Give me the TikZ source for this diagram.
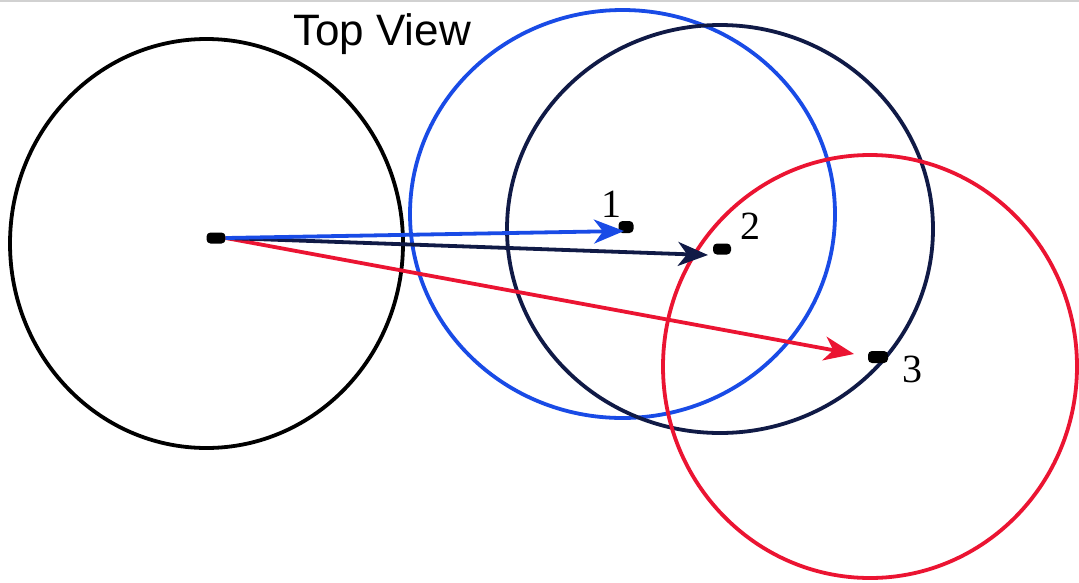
\documentclass[tikz,border=0pt]{standalone}
\usepackage{fontspec}
\setmainfont{Liberation Serif}
\newfontfamily\arialfont{Liberation Sans}
\usetikzlibrary{arrows.meta}
\definecolor{cblue}{RGB}{25,75,230}
\definecolor{cnavy}{RGB}{16,26,70}
\definecolor{cred}{RGB}{235,20,50}
\tikzset{
  ring/.style={line width=3.8pt},
  vec/.style={line width=3.8pt,-{Stealth[length=30pt,width=24pt,inset=9pt]}},
  pt/.style={fill=black,rounded corners=4pt,inner sep=0pt,minimum width=#1,minimum height=11pt},
  lbl/.style={inner sep=0pt,font=\fontsize{40}{44}\selectfont}
}
\begin{document}
\begin{tikzpicture}[x=1pt,y=-1pt]
\useasboundingbox (0,0) rectangle (1079,582);
\fill[white] (0,0) rectangle (1079,582);
\draw[black!18,line width=1.5pt] (0,1) -- (1079,1);
% circles
\draw[ring,black] (206.5,243.5) ellipse [x radius=196.5pt,y radius=204.5pt];
\draw[ring,cblue] (622.5,214) ellipse [x radius=212.5pt,y radius=204pt];
\draw[ring,cnavy] (720,229) ellipse [x radius=213pt,y radius=204pt];
\draw[ring,cred] (870,366.5) ellipse [x radius=207pt,y radius=211.5pt];
% points
\node[pt=19pt] (o) at (216,238) {};
\node[pt=15pt,minimum height=12pt] (p1) at (626,227) {};
\node[pt=18pt] (p2) at (722,249) {};
\node[pt=20pt,minimum height=12pt] (p3) at (878,357) {};
\coordinate (t1) at (624,231);
\coordinate (t2) at (708,255);
\coordinate (t3) at (854,354);
% vectors
\draw[vec,cred] (o.east) -- (t3);
\draw[vec,cnavy] (o.east) -- (t2);
\draw[vec,cblue] (o.east) -- (t1);
% labels
\node[lbl] (l1) at (611,204) {1};
\node[lbl] (l2) at (750,226) {2};
\node[lbl] (l3) at (912,369) {3};
\node[inner sep=0pt,anchor=base,font=\arialfont\fontsize{44}{48}\selectfont] (title) at (382,45) {Top View};
\end{tikzpicture}
\end{document}
